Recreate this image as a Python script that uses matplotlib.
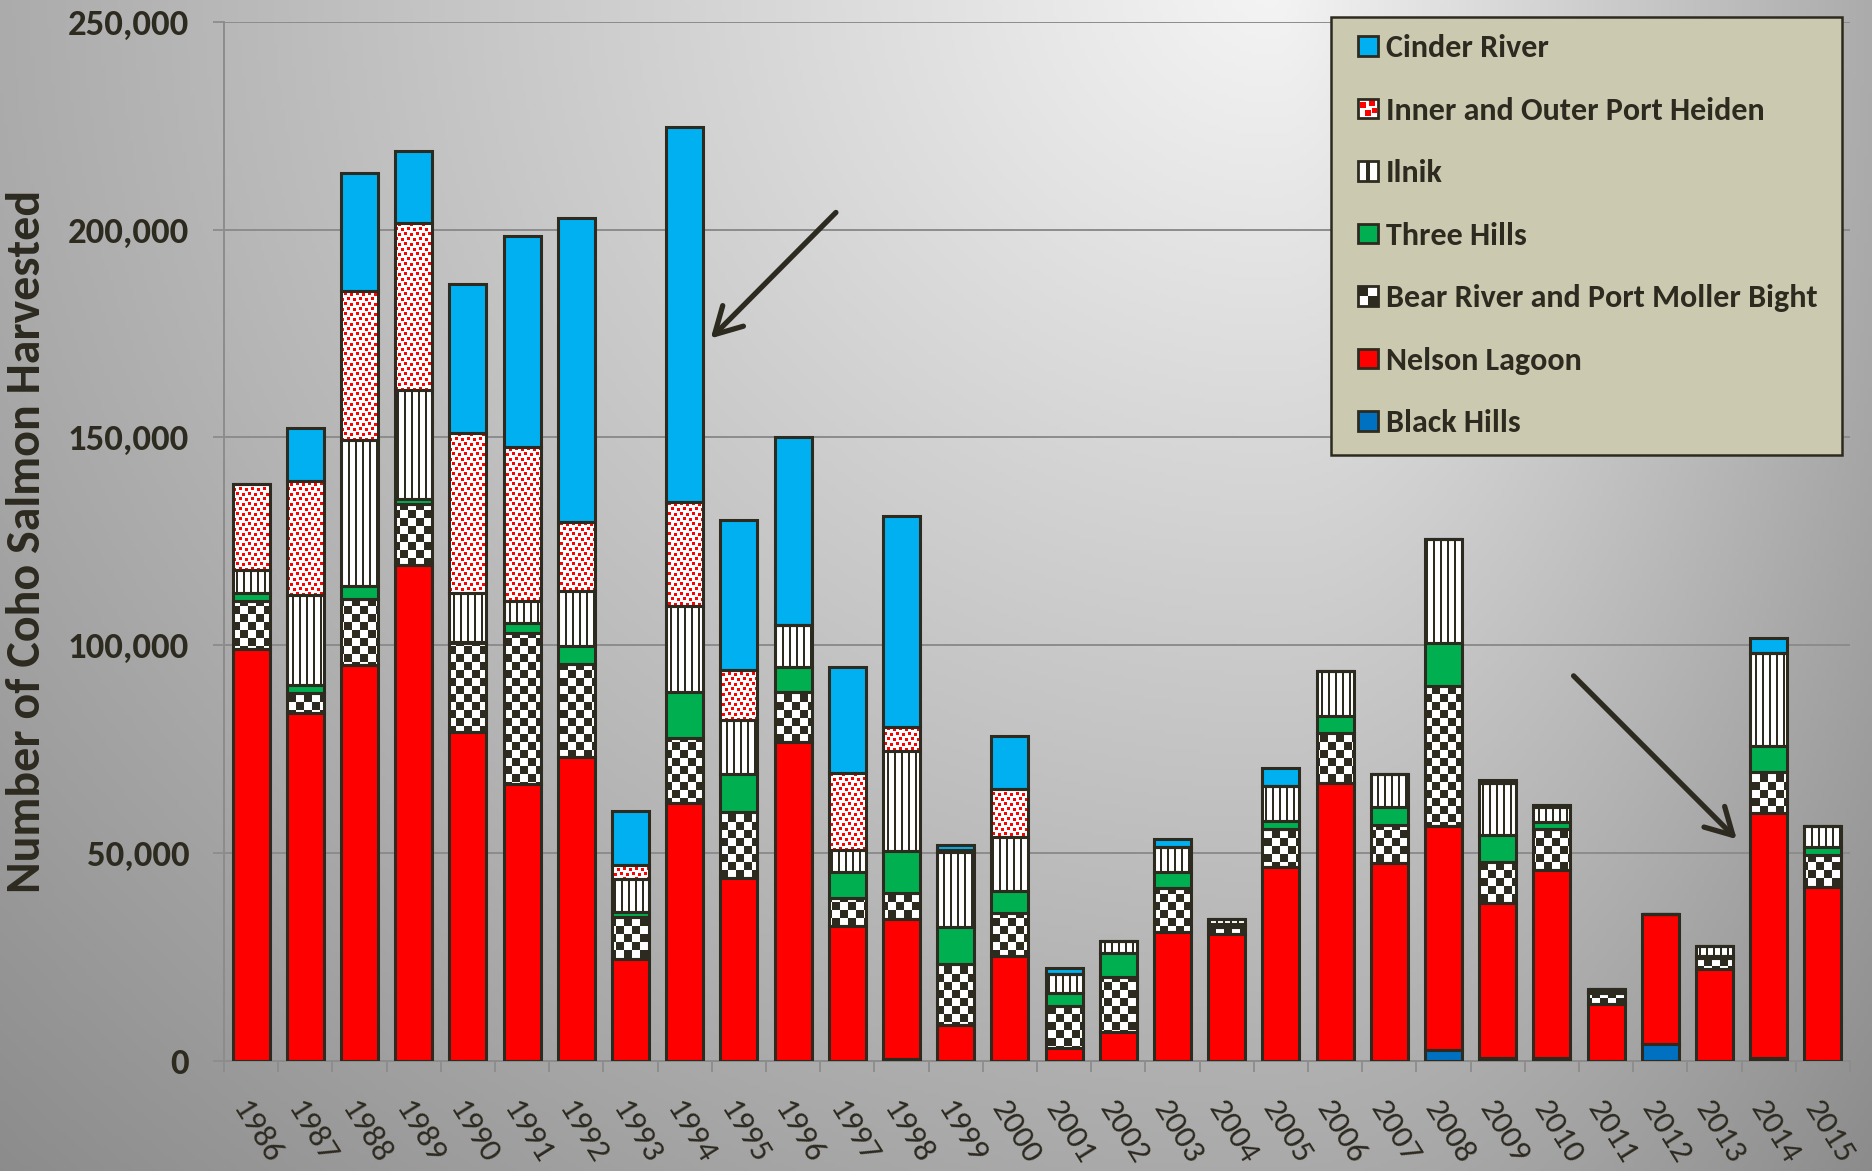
import numpy as np
import matplotlib
matplotlib.use('Agg')
import matplotlib.pyplot as pl
from matplotlib.patches import Rectangle, Patch, PathPatch
from matplotlib.path import Path
from matplotlib.legend_handler import HandlerBase
from matplotlib import font_manager

# coho salmon harvest by district
years = list(range(1986, 2016))
black_hills = [0, 0, 0, 0, 0, 0, 0, 0, 0, 0, 0, 0, 500, 0, 0,
               0, 0, 0, 0, 0, 0, 0, 2600, 700, 700, 0, 4000, 0, 700, 0]
nelson = [99000, 83600, 95200, 119300, 79000, 66600, 73100, 24400, 62100, 43900,
          76600, 32400, 33500, 8600, 25200, 3000, 7000, 31000, 30400, 46500,
          66900, 47600, 53900, 37200, 45200, 13600, 31400, 22000, 58800, 41700]
bear = [11700, 4900, 16000, 14600, 21400, 36400, 22300, 10200, 15500, 16000,
        12000, 6700, 6400, 14600, 10300, 10200, 13200, 10600, 1800, 9200,
        11900, 9200, 33700, 9800, 9900, 2600, 0, 2700, 9900, 7900]
three_hills = [1900, 1900, 3000, 1200, 400, 2400, 4300, 1200, 11100, 9200,
               6200, 6300, 10000, 9000, 5400, 3000, 5800, 3900, 600, 2000,
               4200, 4300, 10400, 6600, 1600, 300, 0, 400, 6300, 1900]
ilnik = [5500, 21700, 35100, 26200, 11800, 5200, 13300, 7800, 20800, 12800,
         10000, 5400, 24100, 18000, 12900, 4600, 2700, 5800, 1200, 8300,
         10800, 7900, 24900, 12500, 3600, 700, 0, 2400, 22500, 5000]
heiden = [20600, 27400, 35900, 40200, 38500, 37100, 16600, 3400, 24900, 12000,
          0, 18500, 5700, 600, 11500, 0, 0, 0, 0, 0,
          0, 0, 0, 0, 500, 0, 0, 0, 0, 0]
cinder = [0, 12800, 28500, 17500, 35900, 50800, 73200, 13200, 90300, 36100,
          45300, 25500, 50900, 1000, 12800, 1400, 0, 2000, 0, 4400,
          0, 0, 0, 800, 0, 0, 0, 0, 3500, 0]

DARK = '#2d2a20'
GRID = '#8c8c8c'

names = {f.name for f in font_manager.fontManager.ttflist}
FONT = next((n for n in ['Carlito', 'Calibri', 'Lato'] if n in names), 'DejaVu Sans')
pl.rcParams['font.family'] = FONT

W, H = 1872, 1171
fig = pl.figure(figsize=(W / 100, H / 100), dpi=100)

# grey radial background
bg = fig.add_axes([0, 0, 1, 1], zorder=-10)
yy, xx = np.mgrid[0:1:300j, 0:1:480j]
dx = (xx - 0.68) / np.where(xx < 0.68, 0.85, 0.40)
dy = (yy + 0.02) / 1.25
v = np.clip(0.96 - 0.36 * np.hypot(dx, dy), 0.5, 1)
bg.imshow(np.dstack([v, v, v]), aspect='auto', extent=(0, 1, 0, 1))
bg.axis('off')

pos = [224 / W, 1 - 1060.7 / H, (1850 - 224) / W, (1060.7 - 21.7) / H]
ax = fig.add_axes(pos, zorder=1)
ax.set_facecolor('none')

x = np.arange(len(years))
bw = 0.68
series = [
    ('Black Hills', black_hills, '#0070c0', None),
    ('Nelson Lagoon', nelson, '#ff0000', None),
    ('Bear River and Port Moller Bight', bear, 'white', 'checker'),
    ('Three Hills', three_hills, '#00b050', None),
    ('Ilnik', ilnik, 'white', 'stripes'),
    ('Inner and Outer Port Heiden', heiden, 'white', 'dots'),
    ('Cinder River', cinder, '#00b0f0', None),
]

# texture tiles, one image pixel = one screen pixel
ax_w = int(round(pos[2] * W))
ax_h = int(round(pos[3] * H))
checker_tile = np.kron([[1, 0], [0, 1]], np.ones((8, 8)))
dots_rows = ["RRR.........",
             "RRR...RRR...",
             "RRR...RRR...",
             "......RRR...",
             "............",
             "...RRR......",
             "...RRR...RRR",
             "...RRR...RRR",
             ".........RRR",
             "............"]
dots_tile = np.array([[c == 'R' for c in r] for r in dots_rows], dtype=float)
stripe_tile = np.array([[0, 0, 0, 0, 0, 1, 1]], dtype=float)


def make_texture(tile, color):
    reps = (ax_h // tile.shape[0] + 1, ax_w // tile.shape[1] + 1)
    m = np.tile(tile, reps)[:ax_h, :ax_w]
    rgb = np.array(matplotlib.colors.to_rgb(color))
    return np.ones((ax_h, ax_w, 3)) * (1 - m[..., None]) + m[..., None] * rgb


textures = {
    'checker': make_texture(checker_tile, DARK),
    'dots': make_texture(dots_tile, '#ff0000'),
    'stripes': make_texture(stripe_tile, DARK),
}

bottom = np.zeros(len(years))
for label, vals, color, pat in series:
    vals = np.array(vals, dtype=float)
    bars = ax.bar(x, vals, bw, bottom=bottom, color=color, linewidth=0, zorder=2)
    if pat:
        paths = [b.get_path().transformed(b.get_patch_transform())
                 for b in bars if b.get_height() > 0]
        clip = PathPatch(Path.make_compound_path(*paths), transform=ax.transData)
        im = ax.imshow(textures[pat], extent=(-0.5, 29.5, 0, 250000), aspect='auto',
                       interpolation='nearest', zorder=2.5)
        im.set_clip_path(clip)
    ax.bar(x, vals, bw, bottom=bottom, fill=False, edgecolor=DARK, linewidth=2.2, zorder=3)
    bottom += vals

ax.set_xlim(-0.5, 29.5)
ax.set_ylim(0, 250000)
ax.set_yticks(np.arange(0, 250001, 50000))
ax.set_yticklabels([f'{t:,}' for t in range(0, 250001, 50000)], fontsize=26.5,
                   fontweight='bold', color=DARK)
ax.set_xticks(x)
ax.set_xticklabels([str(y) for y in years], fontsize=24, color=DARK,
                   rotation=-58, ha='left', va='top', rotation_mode='anchor')
ax.set_xticks(np.arange(-0.5, 30, 1), minor=True)
ax.tick_params(axis='x', which='major', length=0, pad=25)
ax.tick_params(axis='x', which='minor', length=8, color=GRID, width=1.3)
ax.tick_params(axis='y', length=8, color=GRID, width=1.3, pad=17)
ax.yaxis.grid(True, color=GRID, linewidth=1.4)
ax.set_axisbelow(True)
for s in ['top', 'right']:
    ax.spines[s].set_visible(False)
for s in ['left', 'bottom']:
    ax.spines[s].set_color(GRID)
    ax.spines[s].set_linewidth(1.4)

ax.set_ylabel('Number of Coho Salmon Harvested', fontsize=34.5, fontweight='bold', color=DARK)
ax.yaxis.set_label_coords(-0.108, 0.5)

# arrows pointing at 1994 and 2014
arrow = dict(arrowstyle='->,head_length=0.45,head_width=0.25', lw=3.8, color=DARK,
             mutation_scale=42, shrinkA=0, shrinkB=0)
ax.annotate('', xy=(8.48, 173800), xytext=(10.79, 204100), arrowprops=arrow, zorder=5)
ax.annotate('', xy=(27.41, 53300), xytext=(24.4, 92600), arrowprops=arrow, zorder=5)


class Swatch(HandlerBase):
    def __init__(self, face, marks=()):
        super().__init__()
        self.face = face
        self.marks = marks

    def create_artists(self, legend, orig_handle, xdescent, ydescent, width, height, fontsize, trans):
        s = min(width, height)
        x0, y0 = -xdescent + width - s, -ydescent + (height - s) / 2
        arts = [Rectangle((x0, y0), s, s, facecolor=self.face, edgecolor='none', transform=trans)]
        for mx, my, mw, mh, c in self.marks:
            arts.append(Rectangle((x0 + mx * s, y0 + my * s), mw * s, mh * s,
                                  facecolor=c, edgecolor='none', transform=trans))
        arts.append(Rectangle((x0, y0), s, s, fill=False, edgecolor=DARK, lw=2, transform=trans))
        return arts


swatches = {
    'Cinder River': Swatch('#00b0f0'),
    'Inner and Outer Port Heiden': Swatch('white', [(0.08, 0.55, 0.3, 0.3, 'red'), (0.55, 0.65, 0.3, 0.3, 'red'),
                                                    (0.35, 0.1, 0.3, 0.3, 'red'), (0.7, 0.25, 0.25, 0.25, 'red')]),
    'Ilnik': Swatch('white', [(0.42, 0, 0.16, 1, DARK)]),
    'Three Hills': Swatch('#00b050'),
    'Bear River and Port Moller Bight': Swatch('white', [(0, 0.5, 0.5, 0.5, DARK), (0.5, 0, 0.5, 0.5, DARK)]),
    'Nelson Lagoon': Swatch('#ff0000'),
    'Black Hills': Swatch('#0070c0'),
}
handles = [Patch(label=lab) for lab in swatches]
hmap = {h: swatches[h.get_label()] for h in handles}
leg = ax.legend(handles=handles, handler_map=hmap, loc='upper left',
                bbox_to_anchor=(0.681, 0.584, 0.314, 0.4208), mode='expand',
                prop={'weight': 'bold', 'size': 23}, frameon=True, fancybox=False,
                facecolor='#cbc9b0', edgecolor=DARK, framealpha=1,
                handlelength=0.9, handleheight=0.55, handletextpad=0.25,
                labelspacing=1.08, borderpad=0.55, borderaxespad=0)
leg.get_frame().set_linewidth(1.8)
for t in leg.get_texts():
    t.set_color(DARK)

fig.savefig('out.png', dpi=100)
